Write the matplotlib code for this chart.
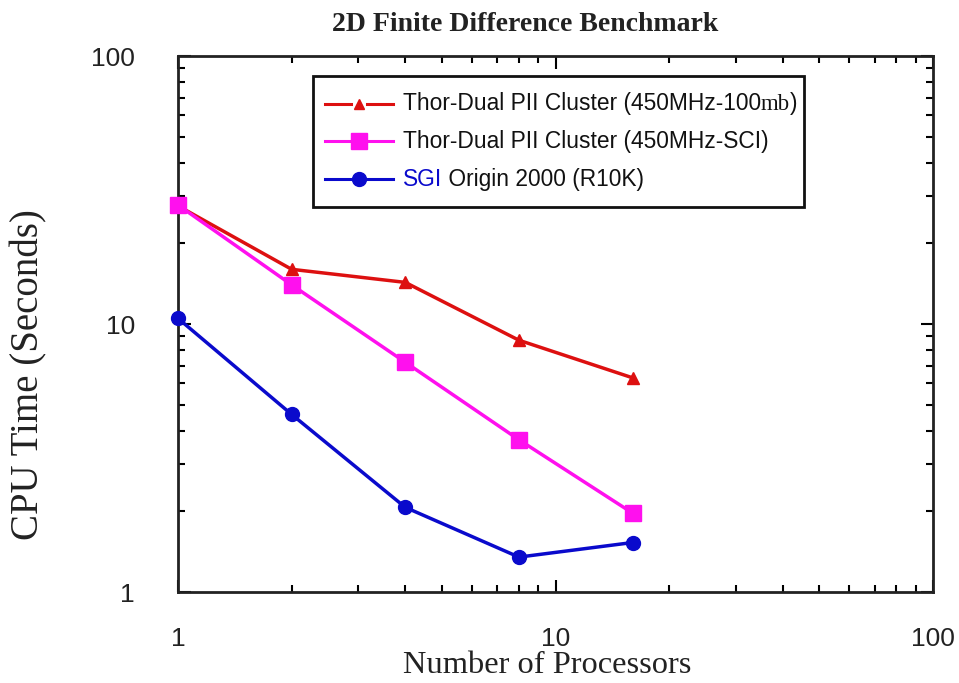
import matplotlib
matplotlib.use("Agg")
import matplotlib.pyplot as plt
from matplotlib.lines import Line2D
from matplotlib.offsetbox import AnchoredOffsetbox, HPacker, VPacker, TextArea, DrawingArea
from matplotlib.ticker import LogLocator, NullFormatter, FixedFormatter, FixedLocator

# Benchmark timings (CPU seconds) versus processor count
processors = [1, 2, 4, 8, 16]
thor_100mb = [27.6, 16.0, 14.3, 8.7, 6.3]
thor_sci = [27.8, 14.0, 7.2, 3.7, 1.97]
sgi_origin = [10.5, 4.6, 2.07, 1.35, 1.53]

decade_ticks = [1, 10, 100]
decade_labels = ["1", "10", "100"]

RED = "#dd1010"
MAGENTA = "#ff10ee"
BLUE = "#0a0acc"

SANS = "Liberation Sans"
SERIF = "Liberation Serif"

fig = plt.figure(figsize=(9.59, 6.83), dpi=100)
ax = fig.add_axes([0.1856, 0.1332, 0.7873, 0.7848])

series = [
    (thor_100mb, RED, "^", 8),
    (thor_sci, MAGENTA, "s", 11),
    (sgi_origin, BLUE, "o", 10),
]
for values, color, marker, ms in series:
    ax.plot(processors, values, color=color, lw=2.5, marker=marker, ms=ms,
            markeredgecolor=color, markerfacecolor=color, clip_on=False, zorder=3)

ax.set_xscale("log")
ax.set_yscale("log")
ax.set_xlim(1, 100)
ax.set_ylim(1, 100)

for axis in (ax.xaxis, ax.yaxis):
    axis.set_major_locator(FixedLocator(decade_ticks))
    axis.set_major_formatter(FixedFormatter(decade_labels))
    axis.set_minor_locator(LogLocator(base=10, subs=range(2, 10)))
    axis.set_minor_formatter(NullFormatter())

ax.tick_params(which="both", direction="in", top=True, right=True, width=1.5)
ax.tick_params(which="major", length=9)
ax.tick_params(which="minor", length=5)
ax.tick_params(axis="x", which="major", pad=25, labelsize=19)
ax.tick_params(axis="y", which="major", pad=31, labelsize=19)
for lab in ax.get_xticklabels() + ax.get_yticklabels():
    lab.set_family(SANS)
    lab.set_color("#222222")
for sp in ax.spines.values():
    sp.set_linewidth(2.0)
    sp.set_color("#222222")

# Legend built from packed rows
legend_fs = 16.4
handle_w, handle_h = 49, 18


def handle(color, marker, ms):
    da = DrawingArea(handle_w, handle_h, 0, 0)
    y = handle_h / 2
    da.add_artist(Line2D([0, 0.38 * handle_w], [y, y], color=color, lw=2.2))
    da.add_artist(Line2D([0.62 * handle_w, handle_w], [y, y], color=color, lw=2.2))
    da.add_artist(Line2D([handle_w / 2], [y], marker=marker, ms=ms, color=color,
                         markeredgecolor=color, markerfacecolor=color, lw=0))
    return da


def txt(s, color="#111111", family=SANS):
    return TextArea(s, textprops=dict(fontsize=legend_fs, color=color, family=family))


def spacer(w, h):
    return DrawingArea(w, h, 0, 0)


rows = [
    HPacker(children=[handle(RED, "^", 7),
                      HPacker(children=[txt("Thor-Dual PII Cluster (450MHz-100"),
                                        txt("mb", family=SERIF), txt(")")],
                              sep=0, pad=0, align="baseline")],
            sep=7, pad=0, align="center"),
    HPacker(children=[handle(MAGENTA, "s", 11),
                      txt("Thor-Dual PII Cluster (450MHz-SCI)")],
            sep=7, pad=0, align="center"),
    HPacker(children=[handle(BLUE, "o", 10),
                      HPacker(children=[txt("SGI", color=BLUE), txt(" Origin 2000 (R10K)")],
                              sep=0, pad=0, align="baseline")],
            sep=7, pad=0, align="center"),
]
inner = VPacker(children=rows, sep=9.2, pad=0, align="left")
box = VPacker(children=[spacer(1, 11),
                        HPacker(children=[spacer(8.6, 1), inner, spacer(4.5, 1)],
                                sep=0, pad=0, align="center"),
                        spacer(1, 11)],
              sep=0, pad=0, align="left")
anchored = AnchoredOffsetbox(loc="upper left", child=box, pad=0, borderpad=0,
                             frameon=True, bbox_to_anchor=(0.179, 0.963),
                             bbox_transform=ax.transAxes)
anchored.patch.set_edgecolor("#111111")
anchored.patch.set_linewidth(2.0)
anchored.patch.set_boxstyle("square", pad=0)
ax.add_artist(anchored)

fig.text(525 / 959, 1 - 31 / 683, "2D Finite Difference Benchmark", ha="center",
         va="baseline", family=SERIF, weight="bold", fontsize=20, color="#222222")
fig.text(547 / 959, 1 - 673 / 683, "Number of Processors", ha="center", va="baseline",
         family=SERIF, fontsize=23.4, color="#222222")
fig.text(29 / 959, 1 - 375 / 683, "CPU Time (Seconds)", ha="center", va="center",
         rotation=90, family=SERIF, fontsize=28, color="#222222")

fig.savefig("out.png", dpi=100)
